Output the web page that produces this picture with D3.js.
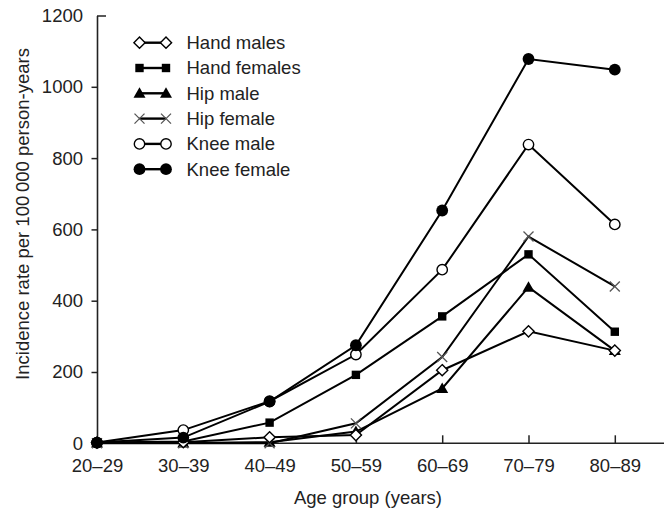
<!DOCTYPE html>
<html>
<head>
<meta charset="utf-8">
<script src="https://cdn.jsdelivr.net/npm/d3@7"></script>
<style>
  html, body { margin: 0; padding: 0; background: #fff; }
  svg { display: block; }
  text { font-family: "Liberation Sans", Arial, Helvetica, sans-serif; fill: #222; }
</style>
</head>
<body>
<svg id="chart" width="664" height="509"></svg>
<script>
const categories = ["20–29", "30–39", "40–49", "50–59", "60–69", "70–79", "80–89"];
const yTicks = [0, 200, 400, 600, 800, 1000, 1200];

const handMales   = [2, 3, 17, 23, 205, 314, 260];
const handFemales = [2, 5, 58, 192, 356, 530, 313];
const hipMale     = [1, 1, 3, 33, 154, 438, 260];
const hipFemale   = [0, 0, 0, 56, 242, 580, 440];
const kneeMale    = [2, 37, 118, 249, 487, 838, 614];
const kneeFemale  = [2, 16, 117, 275, 653, 1078, 1048];

const seriesNames = ["Hand males", "Hand females", "Hip male", "Hip female", "Knee male", "Knee female"];
const seriesValues = [handMales, handFemales, hipMale, hipFemale, kneeMale, kneeFemale];
const markerTypes = ["diamond", "square", "triangle", "times", "circleOpen", "circleFilled"];
const markerOrder = [2, 3, 1, 0, 4, 5];

const W = 664, H = 509;
const svg = d3.select("#chart");
const FS = 18.5;

const x = d3.scalePoint().domain(categories).range([97, 614.8]);
const y = d3.scaleLinear().domain([0, 1200]).range([443.3, 15.5]);

function markerPath(type) {
  const p = d3.path();
  if (type === "diamond") {
    const r = 5.6;
    p.moveTo(0, -r); p.lineTo(r, 0); p.lineTo(0, r); p.lineTo(-r, 0); p.closePath();
  } else if (type === "square") {
    const h = 4.2;
    p.rect(-h, -h, 2 * h, 2 * h);
  } else if (type === "triangle") {
    const s = 6;
    p.moveTo(0, -s); p.lineTo(s, s * 0.75); p.lineTo(-s, s * 0.75); p.closePath();
  } else if (type === "times") {
    const r = 5;
    p.moveTo(-r, -r); p.lineTo(r, r); p.moveTo(-r, r); p.lineTo(r, -r);
  } else if (type === "circleOpen") {
    p.arc(0, 0, 5.2, 0, 2 * Math.PI);
  } else if (type === "circleFilled") {
    p.arc(0, 0, 5.9, 0, 2 * Math.PI);
  }
  return p.toString();
}
function styleMarker(sel, type) {
  if (type === "diamond" || type === "circleOpen") {
    sel.attr("fill", "#fff").attr("stroke", "#000").attr("stroke-width", 1.4);
  } else if (type === "times") {
    sel.attr("fill", "none").attr("stroke", "#555").attr("stroke-width", 1.3);
  } else {
    sel.attr("fill", "#000").attr("stroke", "none");
  }
}

// Axes
const yAxis = d3.axisLeft(y).tickValues(yTicks).tickFormat(d3.format("d"))
  .tickSizeInner(5.5).tickSizeOuter(0).tickPadding(8.5);
const gy = svg.append("g").attr("transform", "translate(97,0)").call(yAxis);
gy.select(".domain").attr("stroke", "#222").attr("stroke-width", 1.6);
gy.selectAll(".tick line").attr("stroke", "#222").attr("stroke-width", 1.5)
  .attr("x2", d => d === 1200 ? 9 : -5.5);
gy.selectAll(".tick text").attr("font-size", FS).attr("fill", "#222")
  .attr("font-family", "Liberation Sans, Arial, sans-serif");

const xAxis = d3.axisBottom(x).tickSizeInner(-8).tickSizeOuter(0).tickPadding(16);
const gx = svg.append("g").attr("transform", `translate(0,${y(0)})`).call(xAxis);
gx.select(".domain").remove();
gx.append("line").attr("x1", x.range()[0]).attr("x2", W).attr("y1", 0).attr("y2", 0)
  .attr("stroke", "#222").attr("stroke-width", 1.6);
gx.selectAll(".tick line").attr("stroke", "#222").attr("stroke-width", 1.5)
  .filter(d => d === categories[0]).remove();
gx.selectAll(".tick text").attr("font-size", FS).attr("fill", "#222")
  .attr("font-family", "Liberation Sans, Arial, sans-serif");

// Axis titles
svg.append("text").attr("x", 368).attr("y", 504).attr("text-anchor", "middle")
  .attr("font-size", FS).text("Age group (years)");
svg.append("text").attr("transform", "translate(29,214) rotate(-90)")
  .attr("text-anchor", "middle").attr("font-size", FS)
  .text("Incidence rate per 100\u2009000 person-years");

// Lines + markers
const line = d3.line().x((d, i) => x(categories[i])).y(d => y(d));
seriesValues.forEach((vals) => {
  svg.append("path").datum(vals).attr("d", line)
    .attr("fill", "none").attr("stroke", "#000").attr("stroke-width", 2);
});
markerOrder.forEach((si) => {
  const t = markerTypes[si];
  svg.append("g").selectAll("path").data(seriesValues[si]).join("path")
    .attr("d", markerPath(t))
    .attr("transform", (d, i) => `translate(${x(categories[i])},${y(d)})`)
    .call(styleMarker, t);
});

// Legend
const legX1 = 139.5, legX2 = 166, legY0 = 42.7, legDy = 25.3;
seriesNames.forEach((name, i) => {
  const yy = legY0 + i * legDy;
  const g = svg.append("g");
  g.append("line").attr("x1", legX1).attr("x2", legX2).attr("y1", yy).attr("y2", yy)
    .attr("stroke", "#000").attr("stroke-width", 2.4);
  [legX1, legX2].forEach(xx => {
    g.append("path").attr("d", markerPath(markerTypes[i]))
      .attr("transform", `translate(${xx},${yy})`).call(styleMarker, markerTypes[i]);
  });
  g.append("text").attr("x", 186.5).attr("y", yy).attr("dy", "0.35em")
    .attr("font-size", FS).text(name);
});
</script>
</body>
</html>
